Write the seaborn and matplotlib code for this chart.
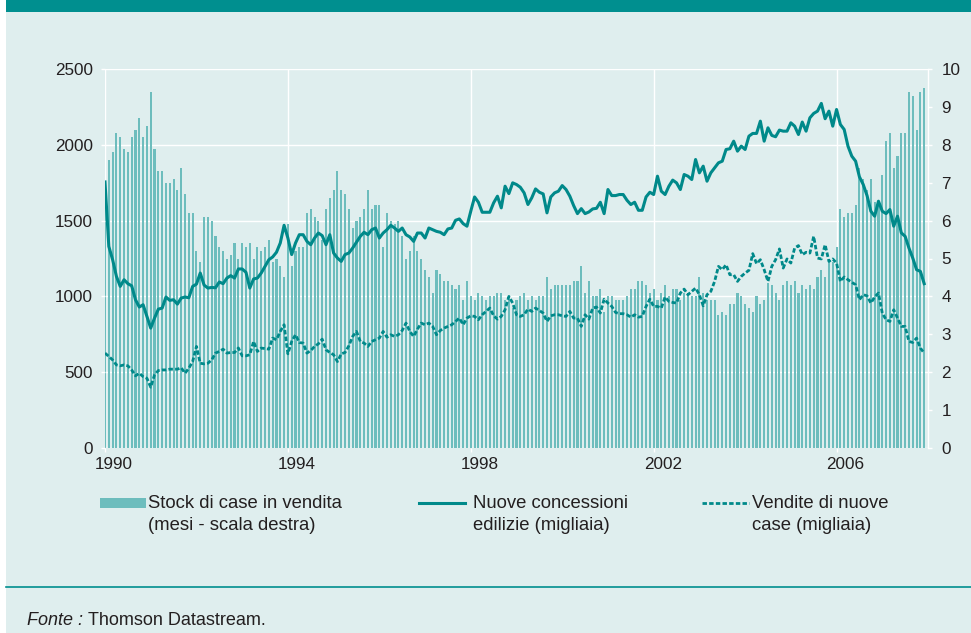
import numpy as np
import pandas as pd
import matplotlib.pyplot as plt
import seaborn as sns
from matplotlib.patches import Rectangle
from matplotlib.lines import Line2D
from matplotlib.transforms import ScaledTranslation

# Dati mensili gen 1990 - dic 2007
mesi = pd.date_range("1990-01-01", "2007-12-01", freq="MS")

# Stock di case in vendita (mesi, scala destra)
stock = [
    7.0, 7.6, 7.8, 8.3, 8.2, 7.9, 7.8, 8.2, 8.4, 8.7, 8.2, 8.5,
    9.4, 7.9, 7.3, 7.3, 7.0, 7.0, 7.1, 6.8, 7.4, 6.7, 6.2, 6.2,
    5.2, 4.9, 6.1, 6.1, 6.0, 5.6, 5.3, 5.2, 5.0, 5.1, 5.4, 5.0,
    5.4, 5.3, 5.4, 5.0, 5.3, 5.2, 5.3, 5.5, 4.9, 5.0, 4.8, 4.5,
    5.9, 4.8, 5.2, 5.3, 5.3, 6.2, 6.3, 6.1, 6.0, 5.5, 6.3, 6.6,
    6.8, 7.3, 6.8, 6.7, 6.3, 5.8, 6.0, 6.1, 6.3, 6.8, 6.3, 6.4,
    6.4, 5.3, 6.2, 6.0, 5.9, 6.0, 5.6, 5.0, 5.2, 5.6, 5.2, 5.0,
    4.7, 4.5, 4.1, 4.7, 4.6, 4.4, 4.4, 4.3, 4.2, 4.3, 3.9, 4.4,
    4.0, 3.9, 4.1, 4.0, 3.9, 4.0, 4.0, 4.1, 4.1, 3.9, 3.9, 3.7,
    3.9, 4.0, 4.1, 3.9, 4.0, 3.9, 4.0, 4.0, 4.5, 4.2, 4.3, 4.3,
    4.3, 4.3, 4.3, 4.4, 4.4, 4.8, 4.1, 4.4, 4.0, 4.0, 4.2, 3.6,
    4.0, 4.0, 3.9, 3.9, 3.9, 4.0, 4.2, 4.2, 4.4, 4.4, 4.3, 4.1,
    4.2, 3.9, 4.1, 4.3, 4.0, 4.2, 4.2, 3.9, 4.1, 4.0, 4.0, 4.0,
    4.5, 4.1, 3.9, 3.9, 3.9, 3.5, 3.6, 3.5, 3.8, 3.8, 4.1, 4.0,
    3.8, 3.7, 3.6, 4.0, 3.8, 3.9, 4.35, 4.3, 4.1, 3.9, 4.3, 4.4,
    4.3, 4.4, 4.1, 4.3, 4.2, 4.3, 4.2, 4.5, 4.7, 4.5, 4.9, 4.9,
    5.3, 6.3, 6.1, 6.2, 6.2, 6.4, 7.4, 7.1, 6.8, 7.1, 6.5, 6.4,
    7.2, 8.1, 8.3, 7.4, 7.7, 8.3, 8.3, 9.4, 9.3, 8.4, 9.4, 9.5,
]

# Nuove concessioni edilizie (migliaia)
concessioni = [
    1755, 1330, 1242, 1132, 1066, 1110, 1084, 1070, 978, 930, 945, 868,
    791, 857, 916, 923, 996, 974, 978, 949, 989, 996, 991, 1066,
    1081, 1154, 1075, 1055, 1059, 1057, 1095, 1084, 1121, 1137, 1121, 1181,
    1181, 1159, 1055, 1115, 1121, 1154, 1198, 1242, 1260, 1291, 1352, 1469,
    1385, 1276, 1352, 1407, 1407, 1363, 1341, 1385, 1418, 1401, 1341, 1407,
    1286, 1253, 1231, 1276, 1286, 1319, 1357, 1396, 1423, 1407, 1440, 1451,
    1385, 1418, 1440, 1469, 1451, 1429, 1451, 1407, 1392, 1363, 1418, 1418,
    1385, 1451, 1440, 1429, 1423, 1407, 1445, 1451, 1502, 1511, 1480, 1463,
    1562, 1656, 1621, 1555, 1555, 1555, 1617, 1661, 1584, 1727, 1678, 1749,
    1738, 1720, 1683, 1606, 1650, 1709, 1687, 1676, 1551, 1656, 1683, 1694,
    1731, 1705, 1661, 1599, 1546, 1579, 1546, 1557, 1577, 1581, 1621, 1546,
    1705, 1665, 1665, 1672, 1672, 1634, 1606, 1621, 1568, 1568, 1656, 1687,
    1672, 1793, 1694, 1672, 1727, 1767, 1749, 1705, 1804, 1793, 1771, 1903,
    1815, 1859, 1760, 1815, 1848, 1881, 1892, 1969, 1974, 2024, 1958, 1991,
    1969, 2057, 2075, 2075, 2156, 2024, 2112, 2062, 2053, 2097, 2090, 2090,
    2145, 2123, 2068, 2150, 2090, 2178, 2207, 2222, 2273, 2172, 2222, 2123,
    2233, 2134, 2101, 1991, 1925, 1892, 1789, 1738, 1665, 1562, 1529, 1628,
    1562, 1546, 1573, 1463, 1529, 1419, 1396, 1319, 1253, 1176, 1165, 1084,
]

# Vendite di nuove case (migliaia)
vendite = [
    626, 604, 581, 548, 542, 548, 542, 515, 476, 493, 471, 460,
    401, 482, 511, 515, 515, 520, 520, 520, 529, 493, 526, 570,
    670, 559, 555, 559, 581, 626, 637, 652, 626, 630, 630, 660,
    608, 608, 615, 703, 637, 659, 656, 652, 725, 714, 769, 813,
    621, 703, 747, 696, 692, 626, 643, 670, 687, 718, 648, 630,
    615, 570, 621, 630, 674, 736, 769, 703, 692, 670, 703, 714,
    725, 769, 731, 747, 736, 747, 775, 824, 769, 736, 784, 824,
    813, 824, 802, 747, 775, 791, 802, 813, 835, 857, 813, 857,
    872, 868, 846, 879, 901, 923, 872, 850, 868, 912, 1000, 956,
    879, 868, 879, 916, 901, 923, 907, 890, 835, 872, 879, 879,
    872, 868, 901, 857, 857, 802, 879, 850, 923, 930, 890, 982,
    956, 934, 894, 886, 886, 879, 863, 879, 863, 868, 934, 982,
    934, 934, 923, 996, 967, 960, 956, 1022, 1048, 1011, 1033, 1055,
    1011, 938, 1011, 1033, 1099, 1198, 1176, 1209, 1143, 1143, 1099, 1132,
    1154, 1172, 1282, 1216, 1242, 1176, 1099, 1198, 1242, 1313, 1187, 1247,
    1220, 1319, 1335, 1275, 1291, 1286, 1396, 1253, 1247, 1341, 1231, 1247,
    1220, 1099, 1128, 1110, 1093, 1077, 978, 1011, 1004, 956, 996, 1022,
    890, 846, 835, 912, 857, 802, 802, 703, 696, 725, 659, 626,
]

anni_tick = [1990, 1994, 1998, 2002, 2006]
tick_sx = [0, 500, 1000, 1500, 2000, 2500]
tick_dx = list(range(0, 11))

df = pd.DataFrame({
    "anno": mesi.year + (mesi.month - 1) / 12,
    "stock": stock,
    "concessioni": concessioni,
    "vendite": vendite,
})

SFONDO = "#dfeeee"
TEAL = "#008f8f"
LINEA = "#00898a"
BARRE = "#6dbdbd"
TESTO = "#231f20"
TRATTEGGIO = (0, (1.6, 0.8))

plt.rcParams["font.family"] = ["Liberation Sans", "DejaVu Sans"]

W, H = 971, 633
fig = plt.figure(figsize=(W / 100, H / 100), dpi=100)
fig.patch.set_facecolor("white")
fig.add_artist(Rectangle((6 / W, 0), 1, 1 - 12 / H, transform=fig.transFigure,
                         facecolor=SFONDO, edgecolor="none", zorder=-10))
fig.add_artist(Rectangle((6 / W, 1 - 12 / H), 1, 12 / H, transform=fig.transFigure,
                         facecolor=TEAL, edgecolor="none", zorder=-10))

ax = fig.add_axes([105 / W, 1 - 448 / H, 823 / W, 379 / H])
ax.set_facecolor(SFONDO)
ax2 = ax.twinx()

# barre sull'asse di sotto (scala destra), linee sopra (scala sinistra)
sns.barplot(data=df, x="anno", y="stock", native_scale=True, orient="x",
            width=0.55, color=BARRE, saturation=1, linewidth=0,
            errorbar=None, ax=ax)
sns.lineplot(data=df, x="anno", y="concessioni", color=LINEA, linewidth=2.2, ax=ax2)
sns.lineplot(data=df, x="anno", y="vendite", color=LINEA, linewidth=2.0,
             linestyle=TRATTEGGIO, ax=ax2)

ax.set_xlim(1990, 2008)
ax.set_ylim(0, 10)
ax2.set_ylim(0, 2500)
for a in (ax, ax2):
    a.set_xlabel("")
    a.set_ylabel("")
    for s in a.spines.values():
        s.set_visible(False)

ax.set_xticks(anni_tick, [str(a) for a in anni_tick])
ax.yaxis.tick_right()
ax.yaxis.set_label_position("right")
ax.set_yticks(tick_dx)
ax.yaxis.remove_overlapping_locs = False
ax.set_yticks(tick_dx[::2], minor=True)
ax.grid(False)
ax.grid(axis="x", which="major", color="white", linewidth=1)
ax.grid(axis="y", which="minor", color="white", linewidth=1)
ax.set_axisbelow(True)
ax.spines["right"].set_visible(True)
ax.spines["right"].set_color("white")
ax.spines["right"].set_linewidth(1)

ax2.yaxis.tick_left()
ax2.yaxis.set_label_position("left")
ax2.set_yticks(tick_sx)

ax.tick_params(axis="y", which="major", color="white", labelcolor=TESTO,
               length=3.2, width=1, pad=6.5, labelsize=12.3)
ax.tick_params(axis="y", which="minor", length=0)
ax.tick_params(axis="x", color="white", labelcolor=TESTO, length=3.2,
               width=1, pad=3.5, labelsize=12.3)
ax2.tick_params(axis="y", color="white", labelcolor=TESTO, length=3.2,
                width=1, pad=5.5, labelsize=12.3)

sposta = ScaledTranslation(0.09, 0, fig.dpi_scale_trans)
for lbl in ax.get_xticklabels():
    lbl.set_transform(lbl.get_transform() + sposta)

# legenda disegnata a mano sotto il grafico
def fx(x):
    return x / W

def fy(y):
    return 1 - y / H

fig.add_artist(Rectangle((fx(100), fy(508.3)), 46 / W, 10 / H,
                         transform=fig.transFigure, facecolor=BARRE, edgecolor="none"))
fig.add_artist(Line2D([fx(419), fx(465)], [fy(502.5)] * 2, color=LINEA, lw=2.2,
                      transform=fig.transFigure))
fig.add_artist(Line2D([fx(702), fx(749)], [fy(502.5)] * 2, color=LINEA, lw=2.0,
                      linestyle=TRATTEGGIO, transform=fig.transFigure))

voci = [
    (148, "Stock di case in vendita", "(mesi - scala destra)"),
    (473, "Nuove concessioni", "edilizie (migliaia)"),
    (752, "Vendite di nuove", "case (migliaia)"),
]
for x, r1, r2 in voci:
    fig.text(fx(x), fy(508.3), r1, fontsize=13.3, color=TESTO, va="baseline")
    fig.text(fx(x), fy(530), r2, fontsize=13.3, color=TESTO, va="baseline")

fig.add_artist(Line2D([fx(6), 1], [fy(587)] * 2, color=TEAL, lw=1.2,
                      transform=fig.transFigure))
fig.text(fx(83), fy(625), "Fonte :", fontsize=13, style="italic", color=TESTO,
         ha="right", va="baseline")
fig.text(fx(87.5), fy(625), "Thomson Datastream.", fontsize=13, color=TESTO,
         va="baseline")

fig.savefig("out.png", dpi=100)
